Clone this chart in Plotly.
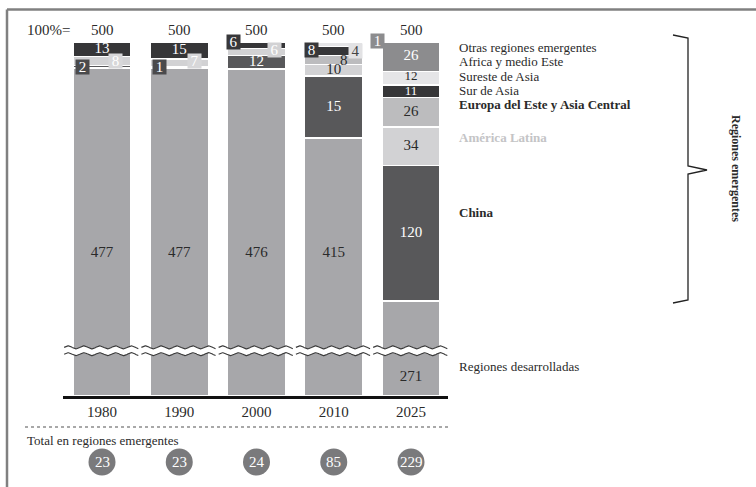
import plotly.graph_objects as go
import numpy as np

# ---------------- data ----------------
years = ["1980", "1990", "2000", "2010", "2025"]
total_100 = [500, 500, 500, 500, 500]
desarrolladas = [477, 477, 476, 415, 271]
china = [2, 1, 12, 55, 120]
america_latina = [8, 7, 6, 10, 34]
europa_este = [0, 0, 0, 8, 26]
sur_asia = [13, 15, 6, 8, 11]
sureste_asia = [0, 0, 0, 4, 12]
africa_medio_este = [0, 0, 0, 0, 26]
otras = [0, 0, 0, 0, 1]
total_emergentes = [23, 23, 24, 85, 229]

# printed labels (as they appear on the original chart)
lbl_desarrolladas = ["477", "477", "476", "415", "271"]
lbl_china = ["2", "1", "12", "15", "120"]
lbl_latina = ["8", "7", "6", "10", "34"]
lbl_europa = ["", "", "", "8", "26"]
lbl_sur = ["13", "15", "6", "8", "11"]
lbl_sureste = ["", "", "", "4", "12"]
lbl_africa = ["", "", "", "", "26"]
lbl_otras = ["", "", "", "", "1"]

# ---------------- layout constants ----------------
W, H = 756, 487
L_PX, R_PX, T_PX, B_PX = 63, 448, 42, 396
X_UNIT = 77.25          # px per category
X0_PX = 102             # centre of first bar
HIDDEN = 187            # values removed by the axis break
BREAK = 40              # display value where the break marks sit
Y_TOP = 500 - HIDDEN
SCALE = (B_PX - T_PX) / Y_TOP
FONT = "Liberation Serif"

x_lo = (L_PX - X0_PX) / X_UNIT
x_hi = (R_PX - X0_PX) / X_UNIT


def px(x):
    return (x - L_PX) / (R_PX - L_PX)


def py(y):
    return (B_PX - y) / (B_PX - T_PX)


def ydata(ypix):
    return (B_PX - ypix) / SCALE


C_DEV = "#a7a7aa"
C_CHINA = "#58585a"
C_LAT = "#d2d2d4"
C_EUR = "#bcbcbe"
C_SUR = "#363638"
C_SE = "#e5e5e7"
C_AFR = "#8c8c8e"
C_OTR = "#8c8c8e"
TXT = "#2a2a2a"

xs = list(range(len(years)))
dev_display = [d - HIDDEN for d in desarrolladas]

series = [
    ("Regiones desarrolladas", dev_display, C_DEV),
    ("China", china, C_CHINA),
    ("América Latina", america_latina, C_LAT),
    ("Europa del Este y Asia Central", europa_este, C_EUR),
    ("Sur de Asia", sur_asia, C_SUR),
    ("Sureste de Asia", sureste_asia, C_SE),
    ("Africa y medio Este", africa_medio_este, C_AFR),
    ("Otras regiones emergentes", otras, C_OTR),
]

fig = go.Figure()
for name, vals, col in series:
    fig.add_trace(go.Bar(
        x=xs, y=[v if v else None for v in vals], name=name,
        marker=dict(color=col, line=dict(color="white", width=1.4)),
        width=0.75, hoverinfo="skip", showlegend=False,
    ))

# centred labels inside segments: (values, labels, indices, colour, font size, nudge px)
inside = [
    (china, lbl_china, [2, 3, 4], "white", 15, 0),
    (america_latina, lbl_latina, [3, 4], TXT, 15, 0),
    (europa_este, lbl_europa, [4], TXT, 15, 0),
    (sur_asia, lbl_sur, [0, 1], "white", 15, 0),
    (sur_asia, lbl_sur, [4], "white", 13, 1),
    (sureste_asia, lbl_sureste, [4], TXT, 13, -1),
    (africa_medio_este, lbl_africa, [4], "white", 15, 0),
]
order = [china, america_latina, europa_este, sur_asia, sureste_asia,
         africa_medio_este, otras]
for vals, labs, idxs, col, size, nudge in inside:
    k = order.index(vals)
    lx, ly, lt = [], [], []
    for i in idxs:
        base = dev_display[i] + sum(order[j][i] for j in range(k))
        lx.append(i)
        ly.append(base + vals[i] / 2 - nudge / SCALE)
        lt.append(labs[i])
    fig.add_trace(go.Scatter(
        x=lx, y=ly, text=lt, mode="text", hoverinfo="skip", showlegend=False,
        textfont=dict(family=FONT, size=size, color=col), textposition="middle center",
    ))

# developed-region labels
DEV_LABEL_Y = [ydata(253)] * 4 + [ydata(377)]
fig.add_trace(go.Scatter(
    x=xs, y=DEV_LABEL_Y, text=lbl_desarrolladas, mode="text",
    hoverinfo="skip", showlegend=False,
    textfont=dict(family=FONT, size=15, color=TXT), textposition="middle center",
))

# axis-break marks
wx = np.linspace(-0.49, 0.47, 120)
wave = 1.3 * np.sin(2 * np.pi * (wx + 0.49) / 0.205)
for i in xs:
    xx = i + wx
    up = BREAK + 3.0 + wave
    lo = BREAK - 3.0 + wave
    fig.add_trace(go.Scatter(
        x=np.concatenate([xx, xx[::-1]]), y=np.concatenate([up, lo[::-1]]),
        fill="toself", fillcolor="white", line=dict(width=0),
        mode="lines", hoverinfo="skip", showlegend=False))
    for yy in (up, lo):
        fig.add_trace(go.Scatter(
            x=xx, y=yy, mode="lines", line=dict(color="#3a3a3a", width=1.1),
            hoverinfo="skip", showlegend=False))

ann = []
shapes = []


def note(text, x, y, xref="paper", size=15, color=TXT, xanchor="center", **kw):
    d = dict(x=x, y=y, xref=xref, yref="paper", text=text, showarrow=False,
             xanchor=xanchor, yanchor="middle",
             font=dict(family=FONT, size=size, color=color))
    d.update(kw)
    ann.append(d)


# circles with totals of emerging regions
CIRCLE_Y = py(462)
for i, v in enumerate(total_emergentes):
    shapes.append(dict(type="circle", xref="x", yref="paper",
                       xsizemode="pixel", ysizemode="pixel",
                       xanchor=i, yanchor=CIRCLE_Y, x0=-13.5, x1=13.5, y0=-13.5, y1=13.5,
                       fillcolor="#7a7a7c", line=dict(width=0), layer="above"))
    note(str(v), i, CIRCLE_Y, xref="x", color="white")

# 100% totals
for i, v in enumerate(total_100):
    note(str(v), i, py(30), xref="x")
note("100%=", px(48), py(30))

# boxed labels: (bar index, x offset px, y px, text, bg, fg)
boxes = [
    (0, -20, 67, lbl_china[0], "#4a4a4c", "white"),
    (0, 13, 61, lbl_latina[0], "#d7d7d9", "white"),
    (1, -20, 67, lbl_china[1], "#4a4a4c", "white"),
    (1, 15, 61, lbl_latina[1], "#d7d7d9", "white"),
    (2, -23, 42, lbl_sur[2], "#38383a", "white"),
    (2, 18, 50, lbl_latina[2], "#d2d2d4", "white"),
    (3, -22, 50, lbl_sur[3], "#38383a", "white"),
    (3, 22, 51, lbl_sureste[3], "#e2e2e4", "#444444"),
    (4, -34, 41, lbl_otras[4], "#8c8c8e", "white"),
]
for i, dx, yp, t, bg, fg in boxes:
    note(t, i, py(yp), xref="x", color=fg, xshift=dx, bgcolor=bg,
         width=13, height=14, borderpad=0)
note(lbl_europa[3], 3, py(60), xref="x", xshift=10)

# right-hand legend labels
legend = [
    ("Otras regiones emergentes", 47, TXT, False),
    ("Africa y medio Este", 61.5, TXT, False),
    ("Sureste de Asia", 76, TXT, False),
    ("Sur de Asia", 90.5, TXT, False),
    ("Europa del Este y Asia Central", 105, TXT, True),
    ("América Latina", 137, "#c4c4c6", True),
    ("China", 212, TXT, True),
    ("Regiones desarrolladas", 366, TXT, False),
]
for t, yp, col, bold in legend:
    note(f"<b>{t}</b>" if bold else t, px(457), py(yp), size=13, color=col,
         xanchor="left")

note("<b>Regiones emergentes</b>", px(736), py(168), size=12, textangle=90)
note("Total en regiones emergentes", px(25), py(440), size=13, xanchor="left")

# shapes: bracket, dotted separator, frame
pts = [(673, 35), (688, 38), (688, 166), (707, 170), (688, 174), (688, 300), (673, 303)]
path = "M " + " L ".join(f"{px(a):.5f},{py(b):.5f}" for a, b in pts)
shapes += [
    dict(type="path", path=path, xref="paper", yref="paper",
         line=dict(color="#222222", width=1.3)),
    dict(type="line", xref="paper", yref="paper", x0=px(25), x1=px(450),
         y0=py(427), y1=py(427), line=dict(color="#a8a8a8", width=2.2, dash="dot")),
    dict(type="line", xref="paper", yref="paper", x0=px(7), x1=px(760),
         y0=py(9.5), y1=py(9.5), line=dict(color="#808080", width=2.5)),
    dict(type="line", xref="paper", yref="paper", x0=px(7), x1=px(7),
         y0=py(9.5), y1=py(495), line=dict(color="#808080", width=2.5)),
]

fig.update_layout(
    width=W, height=H, barmode="stack",
    margin=dict(l=L_PX, r=W - R_PX, t=T_PX, b=H - B_PX, pad=0),
    paper_bgcolor="white", plot_bgcolor="white",
    font=dict(family=FONT, color=TXT),
    annotations=ann, shapes=shapes, showlegend=False,
    xaxis=dict(range=[x_lo, x_hi], tickvals=xs, ticktext=years, showgrid=False,
               zeroline=False, showline=True, linecolor="#111111", linewidth=3,
               ticks="", tickfont=dict(family=FONT, size=15, color=TXT),
               fixedrange=True),
    yaxis=dict(range=[0, Y_TOP], showgrid=False, zeroline=False, showticklabels=False,
               showline=False, fixedrange=True),
)

fig.write_html("out.html")
